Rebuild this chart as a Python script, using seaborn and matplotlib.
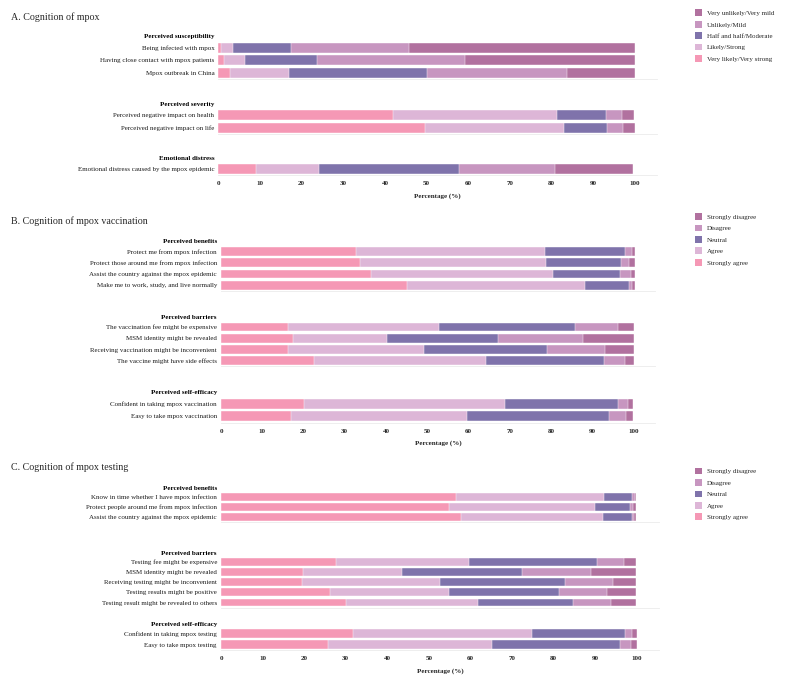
import matplotlib
matplotlib.use('Agg')
import matplotlib.pyplot as plt
from matplotlib.patches import Patch
import pandas as pd
import seaborn as sns

# Percent of respondents per answer, ordered from "very likely / strongly agree"
# to "very unlikely / strongly disagree"

# A. Cognition of mpox
susceptibility_items = ['Being infected with mpox', 'Having close contact with mpox patients', 'Mpox outbreak in China']
susceptibility_pct = [[0.6, 3.0, 13.8, 28.4, 54.2],
                      [1.4, 4.9, 17.3, 35.6, 40.8],
                      [2.8, 14.2, 33.2, 33.4, 16.4]]
severity_items = ['Perceived negative impact on health', 'Perceived negative impact on life']
severity_pct = [[42.0, 39.4, 11.6, 4.0, 2.8],
                [49.7, 33.3, 10.4, 3.7, 2.8]]
distress_items = ['Emotional distress caused by the mpox epidemic']
distress_pct = [[9.0, 15.2, 33.6, 22.9, 18.9]]

# B. Cognition of mpox vaccination
vac_benefit_items = ['Protect me from mpox infection', 'Protect those around me from mpox infection',
                     'Assist the country against the mpox epidemic', 'Make me to work, study, and live normally']
vac_benefit_pct = [[32.7, 45.9, 19.4, 1.7, 0.8],
                   [33.7, 45.1, 18.2, 2.0, 1.5],
                   [36.3, 44.2, 16.2, 2.7, 1.1],
                   [45.2, 43.0, 10.7, 0.8, 0.8]]
vac_barrier_items = ['The vaccination fee might be expensive', 'MSM identity might be revealed',
                     'Receiving vaccination might be inconvenient', 'The vaccine might have side effects']
vac_barrier_pct = [[16.2, 36.7, 32.9, 10.5, 3.9],
                   [17.5, 22.8, 26.9, 20.6, 12.4],
                   [16.3, 33.0, 29.8, 14.0, 7.1],
                   [22.6, 41.7, 28.6, 5.2, 2.1]]
vac_efficacy_items = ['Confident in taking mpox vaccination', 'Easy to take mpox vaccination']
vac_efficacy_pct = [[20.1, 48.8, 27.3, 2.6, 1.1],
                    [17.0, 42.7, 34.5, 4.0, 1.7]]

# C. Cognition of mpox testing
test_benefit_items = ['Know in time whether I have mpox infection', 'Protect people around me from mpox infection',
                      'Assist the country against the mpox epidemic']
test_benefit_pct = [[56.5, 35.6, 6.8, 0.6, 0.4],
                    [54.8, 35.2, 8.4, 0.7, 0.7],
                    [57.7, 34.1, 7.1, 0.4, 0.5]]
test_barrier_items = ['Testing fee might be expensive', 'MSM identity might be revealed',
                      'Receiving testing might be inconvenient', 'Testing results might be positive',
                      'Testing result might be revealed to others']
test_barrier_pct = [[27.7, 32.0, 30.7, 6.5, 2.9],
                    [19.7, 23.9, 28.7, 16.7, 10.8],
                    [19.4, 33.4, 30.0, 11.6, 5.4],
                    [26.2, 28.7, 26.4, 11.5, 7.0],
                    [30.1, 31.7, 22.8, 9.2, 6.0]]
test_efficacy_items = ['Confident in taking mpox testing', 'Easy to take mpox testing']
test_efficacy_pct = [[31.8, 42.9, 22.5, 1.6, 1.2],
                     [25.7, 39.6, 30.8, 2.5, 1.4]]

risk_levels = ['Very likely/Very strong', 'Likely/Strong', 'Half and half/Moderate', 'Unlikely/Mild',
               'Very unlikely/Very mild']
agree_levels = ['Strongly agree', 'Agree', 'Neutral', 'Disagree', 'Strongly disagree']
colors = ['#F598B5', '#DDB6D7', '#7F73AB', '#C796C0', '#B1719F']

W, H = 800, 685

sns.set_style('white')
plt.rcParams['font.family'] = ['Liberation Serif', 'DejaVu Serif']

fig = plt.figure(figsize=(W / 100, H / 100), dpi=100)


def px_box(left, top, right, bottom):
    return [left / W, 1 - bottom / H, (right - left) / W, (bottom - top) / H]


def draw_group(box, header, items, pct, levels, show_x):
    ax = fig.add_axes(box)
    df = pd.DataFrame(pct, index=items, columns=levels).cumsum(axis=1)
    # stacked bars: draw cumulative totals from the longest down
    for lvl, col in reversed(list(zip(levels, colors))):
        sns.barplot(x=df[lvl].values, y=items, color=col, saturation=1, width=0.78,
                    edgecolor='white', linewidth=0.3, errorbar=None, orient='h', ax=ax)
    ax.set_xlim(0, 105.3)
    ax.set_ylabel('')
    for s in ['top', 'right', 'left']:
        ax.spines[s].set_visible(False)
    ax.spines['bottom'].set_color('#EBEBEB')
    ax.spines['bottom'].set_linewidth(0.6)
    ax.tick_params(axis='y', length=0, pad=2.9, labelsize=5, colors='#1a1a1a')
    ax.annotate(header, xy=(0, -0.85), xycoords=('axes fraction', 'data'), xytext=(-2.9, 0),
                textcoords='offset points', ha='right', va='center', fontsize=5,
                fontweight='bold', color='black', annotation_clip=False)
    if show_x:
        ax.set_xticks(range(0, 101, 10))
        ax.tick_params(axis='x', length=1.6, width=0.5, color='#555555', pad=2.8, labelsize=5)
        for t in ax.get_xticklabels():
            t.set_fontweight('bold')
        ax.set_xlabel('Percentage (%)', fontsize=5, fontweight='bold', labelpad=5)
    else:
        ax.tick_params(axis='x', length=0, labelbottom=False)
    return ax


panels = [
    dict(title='A. Cognition of mpox', levels=risk_levels, left=218.3, scale=4.167,
         title_y=17, legend_top=9.5,
         groups=[('Perceived susceptibility', susceptibility_items, susceptibility_pct, 41.4, 79.3),
                 ('Perceived severity', severity_items, severity_pct, 109.1, 133.9),
                 ('Emotional distress', distress_items, distress_pct, 162.5, 175.3)]),
    dict(title='B. Cognition of mpox vaccination', levels=agree_levels, left=221, scale=4.123,
         title_y=221, legend_top=213.2,
         groups=[('Perceived benefits', vac_benefit_items, vac_benefit_pct, 245.5, 291),
                 ('Perceived barriers', vac_barrier_items, vac_barrier_pct, 321.4, 366.4),
                 ('Perceived self-efficacy', vac_efficacy_items, vac_efficacy_pct, 397.3, 422.5)]),
    dict(title='C. Cognition of mpox testing', levels=agree_levels, left=221, scale=4.157,
         title_y=467.3, legend_top=467.8,
         groups=[('Perceived benefits', test_benefit_items, test_benefit_pct, 491.7, 521.8),
                 ('Perceived barriers', test_barrier_items, test_barrier_pct, 556.6, 607.6),
                 ('Perceived self-efficacy', test_efficacy_items, test_efficacy_pct, 628.2, 650)]),
]

for p in panels:
    right = p['left'] + 105.3 * p['scale']
    n = len(p['groups'])
    for i, (header, items, pct, top, bottom) in enumerate(p['groups']):
        draw_group(px_box(p['left'], top, right, bottom), header, items, pct, p['levels'], i == n - 1)
    fig.text(11 / W, 1 - p['title_y'] / H, p['title'], fontsize=7.2, ha='left', va='center')
    handles = [Patch(facecolor=c, edgecolor='none') for c in colors][::-1]
    fig.legend(handles, p['levels'][::-1], loc='upper left', bbox_to_anchor=(694.5 / W, 1 - p['legend_top'] / H),
               frameon=False, fontsize=5, handlelength=1.15, handleheight=1.1, labelspacing=0.68,
               handletextpad=0.6, borderpad=0, borderaxespad=0)

fig.savefig('out.png', dpi=100)
